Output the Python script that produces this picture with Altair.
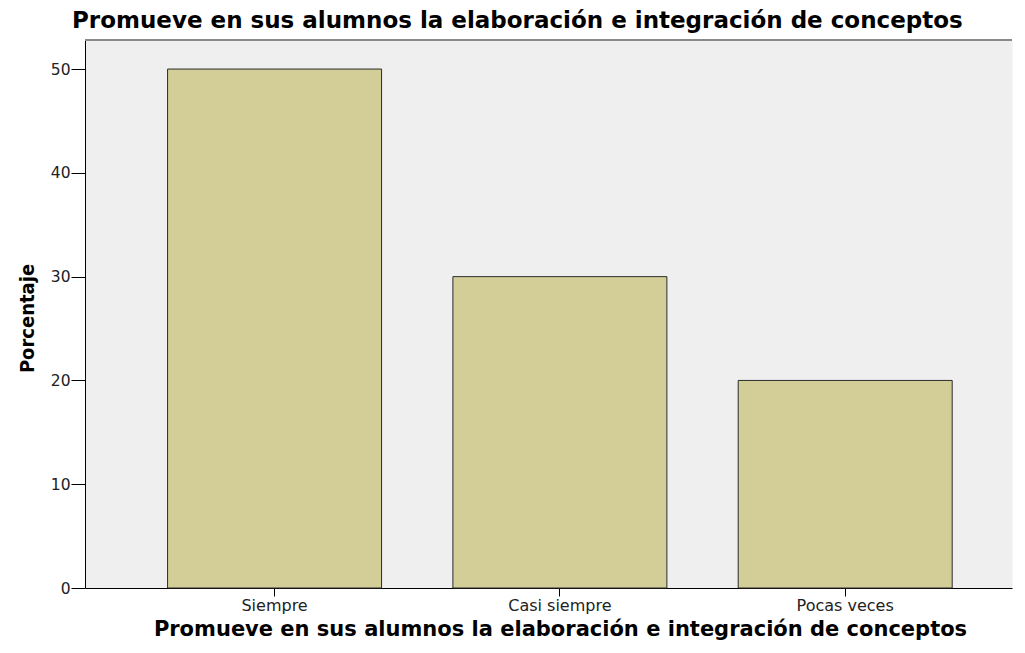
import altair as alt
import pandas as pd

categories = ["Siempre", "Casi siempre", "Pocas veces"]
percentages = [50, 30, 20]
y_ticks = [0, 10, 20, 30, 40, 50]

title_text = "Promueve en sus alumnos la elaboración e integración de conceptos"

df = pd.DataFrame({"cat": categories, "pct": percentages})

W, H = 927, 548

bars = alt.Chart(df).mark_bar(
    fill="#d3ce97", stroke="#2b2b2b", strokeWidth=1
).encode(
    x=alt.X("cat:N", sort=categories,
            scale=alt.Scale(paddingInner=0.25, paddingOuter=0.2495, align=0.58),
            axis=alt.Axis(title=title_text, labelAngle=0, labelFont="DejaVu Sans",
                          labelFontSize=16, labelColor="#222", labelPadding=1,
                          tickSize=8, tickColor="#000", domainColor="#000",
                          titleFont="DejaVu Sans", titleFontSize=21, titleFontWeight="bold",
                          titleColor="#000", titleX=475, titleY=47,
                          titleBaseline="alphabetic", titleAnchor="middle", titleAlign="center")),
    y=alt.Y("pct:Q", scale=alt.Scale(domain=[0, 52.8], nice=False),
            axis=alt.Axis(title="Porcentaje", values=y_ticks, grid=False,
                          labelFont="DejaVu Sans", labelFontSize=15.5, labelColor="#222",
                          labelPadding=1, tickSize=14, tickColor="#000", domainColor="#000",
                          titleFont="Liberation Sans Narrow, DejaVu Sans Condensed, sans-serif",
                          titleFontSize=20, titleFontWeight="bold", titleColor="#000",
                          titleX=-52, titleY=278, titleBaseline="alphabetic",
                          titleAngle=270, titleAlign="center")),
)

top_line = alt.Chart(df).mark_rule(color="#8a8a8a", strokeWidth=2).encode(
    x=alt.value(0), x2=alt.value(W), y=alt.value(0)
)

chart = alt.layer(bars, top_line).properties(
    width=W, height=H,
    title=alt.TitleParams(title_text, anchor="start", frame="group", dx=-13, dy=22, offset=10,
                          baseline="alphabetic", font="DejaVu Sans", fontSize=23,
                          fontWeight="bold", color="#000"),
    padding={"left": 77, "top": 32, "right": 5, "bottom": 53},
    autosize=alt.AutoSizeParams(type="none"),
    background="white",
).configure_view(
    fill="#efefef", stroke="transparent"
)

chart.save("out.html", embed_options={"renderer": "svg", "actions": False})
